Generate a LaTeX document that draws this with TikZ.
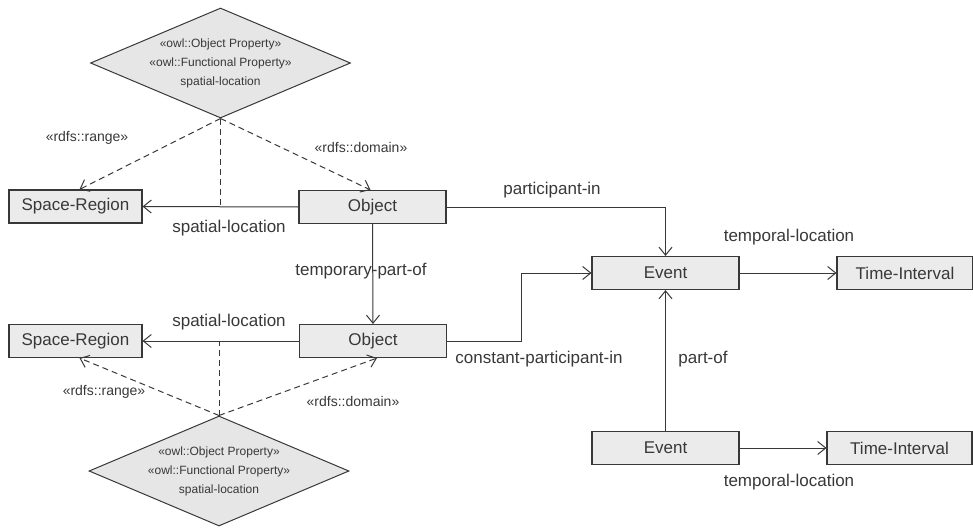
\documentclass[tikz,border=0pt]{standalone}
\usepackage{fontspec}
\setmainfont{Liberation Sans}
\usetikzlibrary{shapes.geometric,arrows.meta,calc}
\definecolor{boxfill}{HTML}{EBEBEB}
\definecolor{propfill}{HTML}{E6E6E6}
\definecolor{ink}{HTML}{383838}

\begin{document}
\begin{tikzpicture}[x=1pt,y=-1pt,
  cls/.style={draw=ink, fill=boxfill, line width=1.1pt, minimum height=33pt,
    inner sep=0pt, text=ink, font=\fontsize{17}{20}\selectfont},
  prop/.style={diamond, draw=ink, fill=propfill, line width=1pt,
    minimum width=260pt, minimum height=110pt, inner sep=0pt},
  proptext/.style={align=center, text=ink, font=\fontsize{12}{19}\selectfont, inner sep=0pt},
  rel/.style={draw=ink, line width=1pt},
  arr/.style={rel, -{Straight Barb[length=8pt,width=13pt]}},
  dsh/.style={rel, dash pattern=on 6pt off 4pt},
  darr/.style={dsh, -{Straight Barb[length=8pt,width=13pt]}},
  lbl/.style={font=\fontsize{17}{20}\selectfont, text=ink, inner sep=0pt},
  stereo/.style={font=\fontsize{14}{16}\selectfont, text=ink, inner sep=0pt}]

\useasboundingbox (0,0) rectangle (973,527);

% property diamonds
\node[prop] (d1) at (220.5,63) {};
\node[proptext] (d1t) at (d1.center)
  {«owl::Object Property»\\«owl::Functional Property»\\spatial-location};
\node[prop] (d2) at (219,471) {};
\node[proptext] (d2t) at (d2.center)
  {«owl::Object Property»\\«owl::Functional Property»\\spatial-location};

% classes
\node[cls, minimum width=133pt] (s1) at (75.5,206.5) {Space-Region};
\node[cls, minimum width=147pt] (o1) at (372.5,207) {Object};
\node[cls, minimum width=133pt] (s2) at (75.5,341) {Space-Region};
\node[cls, minimum width=147pt] (o2) at (373,341) {Object};
\node[cls, minimum width=147pt] (e1) at (665.5,273) {Event};
\node[cls, minimum width=136pt] (t1) at (905,273) {Time-Interval};
\node[cls, minimum width=147pt] (e2) at (665.5,448) {Event};
\node[cls, minimum width=145pt] (t2) at (899.5,448) {Time-Interval};

% upper spatial-location
\draw[arr] (o1.west) -- (s1.east);
\draw[dsh] (d1.south) -- (d1.south |- o1.west);
\draw[darr] (d1.south) -- ([xshift=4pt]s1.north);
\draw[darr] (d1.south) -- ([xshift=-2pt]o1.north);

% lower spatial-location
\draw[arr] (o2.west) -- (s2.east);
\draw[dsh] (d2.north) -- (d2.north |- o2.west);
\draw[darr] (d2.north) -- ([xshift=4pt]s2.south);
\draw[darr] (d2.north) -- ([xshift=4pt]o2.south);

% object relations
\draw[arr] (o1.south) -- (o2.north);
\draw[arr] (o1.east) -| (e1.north);
\draw[arr] (o2.east) -- ++(74,0) |- (e1.west);

% event relations
\draw[arr] (e2.north) -- (e1.south);
\draw[arr] (e1.east) -- (t1.west);
\draw[arr] (e2.east) -- (t2.west);

% connector labels
\node[stereo] (l1) at (87,138) {«rdfs::range»};
\node[stereo] (l2) at (361,147) {«rdfs::domain»};
\node[lbl] (l3) at (229,228) {spatial-location};
\node[lbl] (l4) at (361,271) {temporary-part-of};
\node[lbl] (l5) at (552,190) {participant-in};
\node[lbl] (l6) at (789,237) {temporal-location};
\node[lbl] (l7) at (229,322) {spatial-location};
\node[lbl] (l8) at (539,359) {constant-participant-in};
\node[lbl] (l9) at (703,359) {part-of};
\node[stereo] (l10) at (104,392) {«rdfs::range»};
\node[stereo] (l11) at (353,401) {«rdfs::domain»};
\node[lbl] (l12) at (789,482) {temporal-location};
\end{tikzpicture}
\end{document}
